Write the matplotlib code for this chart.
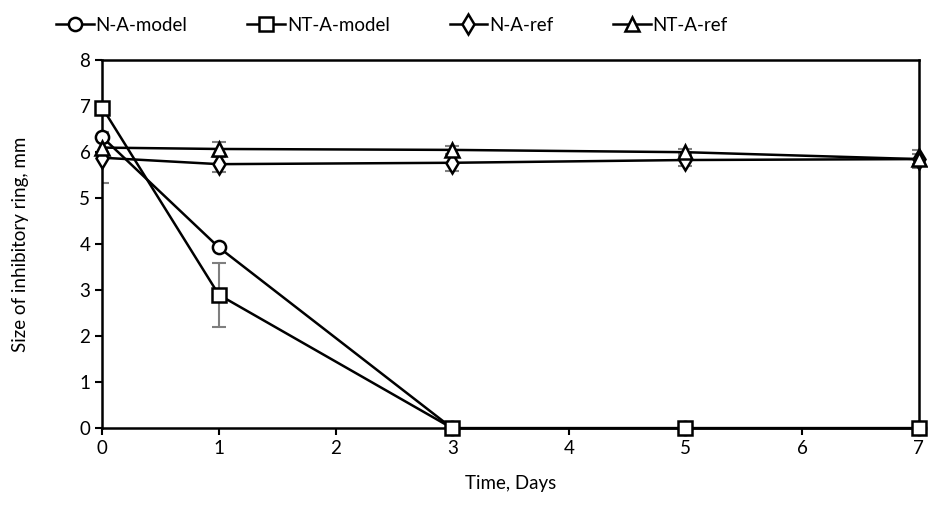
import matplotlib.pyplot as plt

plt.rcParams['font.family'] = ['Lato', 'DejaVu Sans']

days = [0, 1, 3, 5, 7]

n_a_model = [6.33, 3.93, 0, 0, 0]
nt_a_model = [6.97, 2.90, 0, 0, 0]
n_a_ref = [5.88, 5.74, 5.77, 5.83, 5.85]
nt_a_ref = [6.10, 6.07, 6.05, 6.00, 5.85]

nt_a_model_err = [0, 0.69, 0, 0, 0]
n_a_ref_err = [0.55, 0.16, 0.17, 0.12, 0.10]
nt_a_ref_err = [0.10, 0.16, 0.08, 0.08, 0.20]

fig = plt.figure(figsize=(9.29, 5.19), dpi=100)
ax = fig.add_axes([0.110, 0.175, 0.879, 0.709])

series = [
    ('N-A-model', n_a_model, None, 'o'),
    ('NT-A-model', nt_a_model, nt_a_model_err, 's'),
    ('N-A-ref', n_a_ref, n_a_ref_err, 'd'),
    ('NT-A-ref', nt_a_ref, nt_a_ref_err, '^'),
]

for name, vals, err, mk in series:
    if err is not None:
        ax.errorbar(days, vals, yerr=err, fmt='none', ecolor='#7f7f7f',
                    elinewidth=1.5, capsize=5, capthick=1.5, zorder=2)
    ms = 10 if mk in ('d', '^') else 9.5
    ax.plot(days, vals, color='black', lw=1.8, marker=mk, ms=ms,
            mfc='white', mec='black', mew=1.8, label=name, zorder=3,
            clip_on=False)

ax.set_xlim(0, 7)
ax.set_ylim(0, 8)
ax.set_xticks(range(8))
ax.set_yticks(range(9))
ax.tick_params(labelsize=13.5, width=1.5, length=5, direction='out')
for s in ax.spines.values():
    s.set_linewidth(1.8)

ax.set_xlabel('Time, Days', fontsize=13.5, labelpad=13)
ax.set_ylabel('Size of inhibitory ring, mm', fontsize=13.5, labelpad=36)

ax.legend(loc='center', bbox_to_anchor=(0.355, 1.095), ncol=4, frameon=False,
          fontsize=13.5, handlelength=2.0, handletextpad=0.1, columnspacing=3.2)

fig.savefig('out.png', dpi=100)
